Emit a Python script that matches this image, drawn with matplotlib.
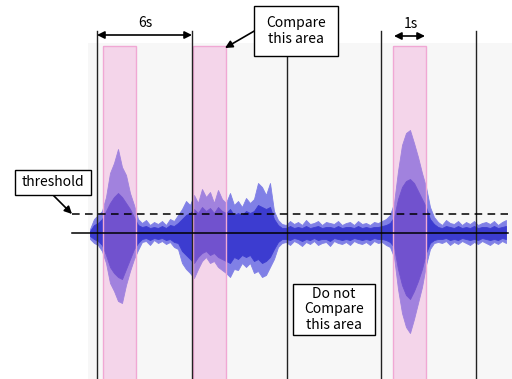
import numpy as np
import matplotlib
matplotlib.use("Agg")
import matplotlib.pyplot as plt
from matplotlib.patches import Rectangle, FancyArrowPatch

plt.rcParams['font.family'] = ['Noto Sans CJK JP', 'DejaVu Sans']

# ---- data (pixel-space diagram units) ----
t0, dt = 90, 4   # waveform sample start / spacing
outer_top = [4,14,18,22,36,60,70,84,66,58,40,28,14,
             10,13,8,11,9,12,8,14,12,18,24,32,
             28,38,30,44,36,41,30,43,34,30,40,28,32,26,35,30,34,50,46,38,50,22,13,9,
             8,12,9,11,8,13,9,10,12,8,11,10,9,12,8,10,11,8,12,9,10,8,11,10,12,14,18,
             30,62,88,100,103,90,76,60,46,26,16,11,
             8,13,10,9,12,8,11,9,12,8,10,11,9,12,8,11,13]
outer_bot = [6,10,12,18,30,50,58,68,70,52,38,26,17,
             9,8,12,7,10,8,11,9,14,16,30,36,
             40,45,36,28,24,30,28,34,37,40,44,36,37,30,34,30,40,38,44,42,34,26,14,10,
             9,12,8,10,13,9,11,8,12,10,9,13,8,10,11,9,12,8,10,11,9,12,8,10,9,12,14,
             24,56,80,94,100,86,70,54,32,16,10,9,
             10,8,12,9,11,8,10,12,9,11,8,10,12,9,11,8,10]
inner_top = [2,8,10,14,22,30,36,40,36,30,24,16,8,
             6,7,5,6,5,7,5,8,7,10,14,18,
             20,24,20,26,22,25,20,26,22,20,24,18,20,18,22,20,22,28,26,24,26,14,8,5,
             5,7,5,6,5,7,5,6,7,5,6,6,5,7,5,6,6,5,7,5,6,5,6,6,7,8,10,
             16,34,46,52,54,50,42,34,26,14,9,6,
             5,7,6,5,7,5,6,5,7,5,6,6,5,7,5,6,7]
inner_bot = [3,6,8,12,22,34,40,44,46,36,26,16,10,
             6,5,7,5,6,5,7,6,9,10,18,22,
             26,30,24,20,18,22,20,24,26,28,30,24,26,22,24,22,28,26,30,28,24,16,9,6,
             6,7,5,6,8,6,7,5,7,6,6,8,5,6,7,6,7,5,6,7,6,7,5,6,6,7,9,
             14,36,52,62,66,58,48,36,20,10,7,6,
             6,5,7,6,7,5,6,7,6,7,5,6,7,6,7,5,6]
baseline_y = 233
threshold_y = 214
grid_x = [97, 192, 287, 381, 476]
pink_spans = [(103, 136), (193, 226), (393, 426)]

# ---- figure ----
fig = plt.figure(figsize=(5.12, 3.79), dpi=100)
ax = fig.add_axes([0, 0, 1, 1])
ax.set_xlim(0, 512)
ax.set_ylim(379, 0)
ax.axis('off')

ax.add_patch(Rectangle((88, 43), 424, 336, facecolor='#f7f7f7', edgecolor='none', zorder=0))

x = t0 + dt * np.arange(len(outer_top))
ot, ob = np.array(outer_top), np.array(outer_bot)
it, ib = np.array(inner_top), np.array(inner_bot)
ax.fill_between(x, baseline_y - ot, baseline_y + ob, color='#8080e6', lw=0.6, zorder=2)
ax.fill_between(x, baseline_y - it, baseline_y + ib, color='#3c3cd0', lw=0.6, zorder=3)

for a, b in pink_spans:
    ax.add_patch(Rectangle((a, 46), b - a, 340, facecolor='#ee88cc', alpha=0.3,
                           edgecolor='none', zorder=4))
    ax.add_patch(Rectangle((a, 46), b - a, 340, facecolor='none',
                           edgecolor='#f0a8d4', lw=1.0, zorder=4))

for gx in grid_x:
    ax.plot([gx, gx], [31, 379], color='#222222', lw=1.0, zorder=5)

ax.plot([72, 508], [baseline_y, baseline_y], color='black', lw=1.1, zorder=6)
ax.plot([72, 508], [threshold_y, threshold_y], color='black', lw=1.1,
        ls=(0, (5, 3.5)), zorder=6)

def arrow(p0, p1, style):
    ax.add_patch(FancyArrowPatch(p0, p1, arrowstyle=style, mutation_scale=11,
                                 color='black', lw=1.2, shrinkA=0, shrinkB=0, zorder=8))

arrow((97, 35), (192, 35), '<|-|>')
arrow((394, 36), (425, 36), '<|-|>')
ax.text(145, 23, '6s', ha='center', va='center', fontsize=10, zorder=9)
ax.text(411, 24, '1s', ha='center', va='center', fontsize=10, zorder=9)

def box(x0, y0, x1, y1, txt):
    ax.add_patch(Rectangle((x0, y0), x1 - x0, y1 - y0, facecolor='white',
                           edgecolor='black', lw=1.0, zorder=9))
    ax.text((x0 + x1) / 2, (y0 + y1) / 2, txt, ha='center', va='center',
            fontsize=10, linespacing=1.15, zorder=10)

box(254, 6, 338, 56, 'Compare\nthis area')
arrow((256, 30), (225, 48), '-|>')
box(15, 170, 91, 195, 'threshold')
arrow((53, 195), (72, 214), '-|>')
box(293, 284, 375, 335, 'Do not\nCompare\nthis area')

fig.savefig('out.png', dpi=100)
